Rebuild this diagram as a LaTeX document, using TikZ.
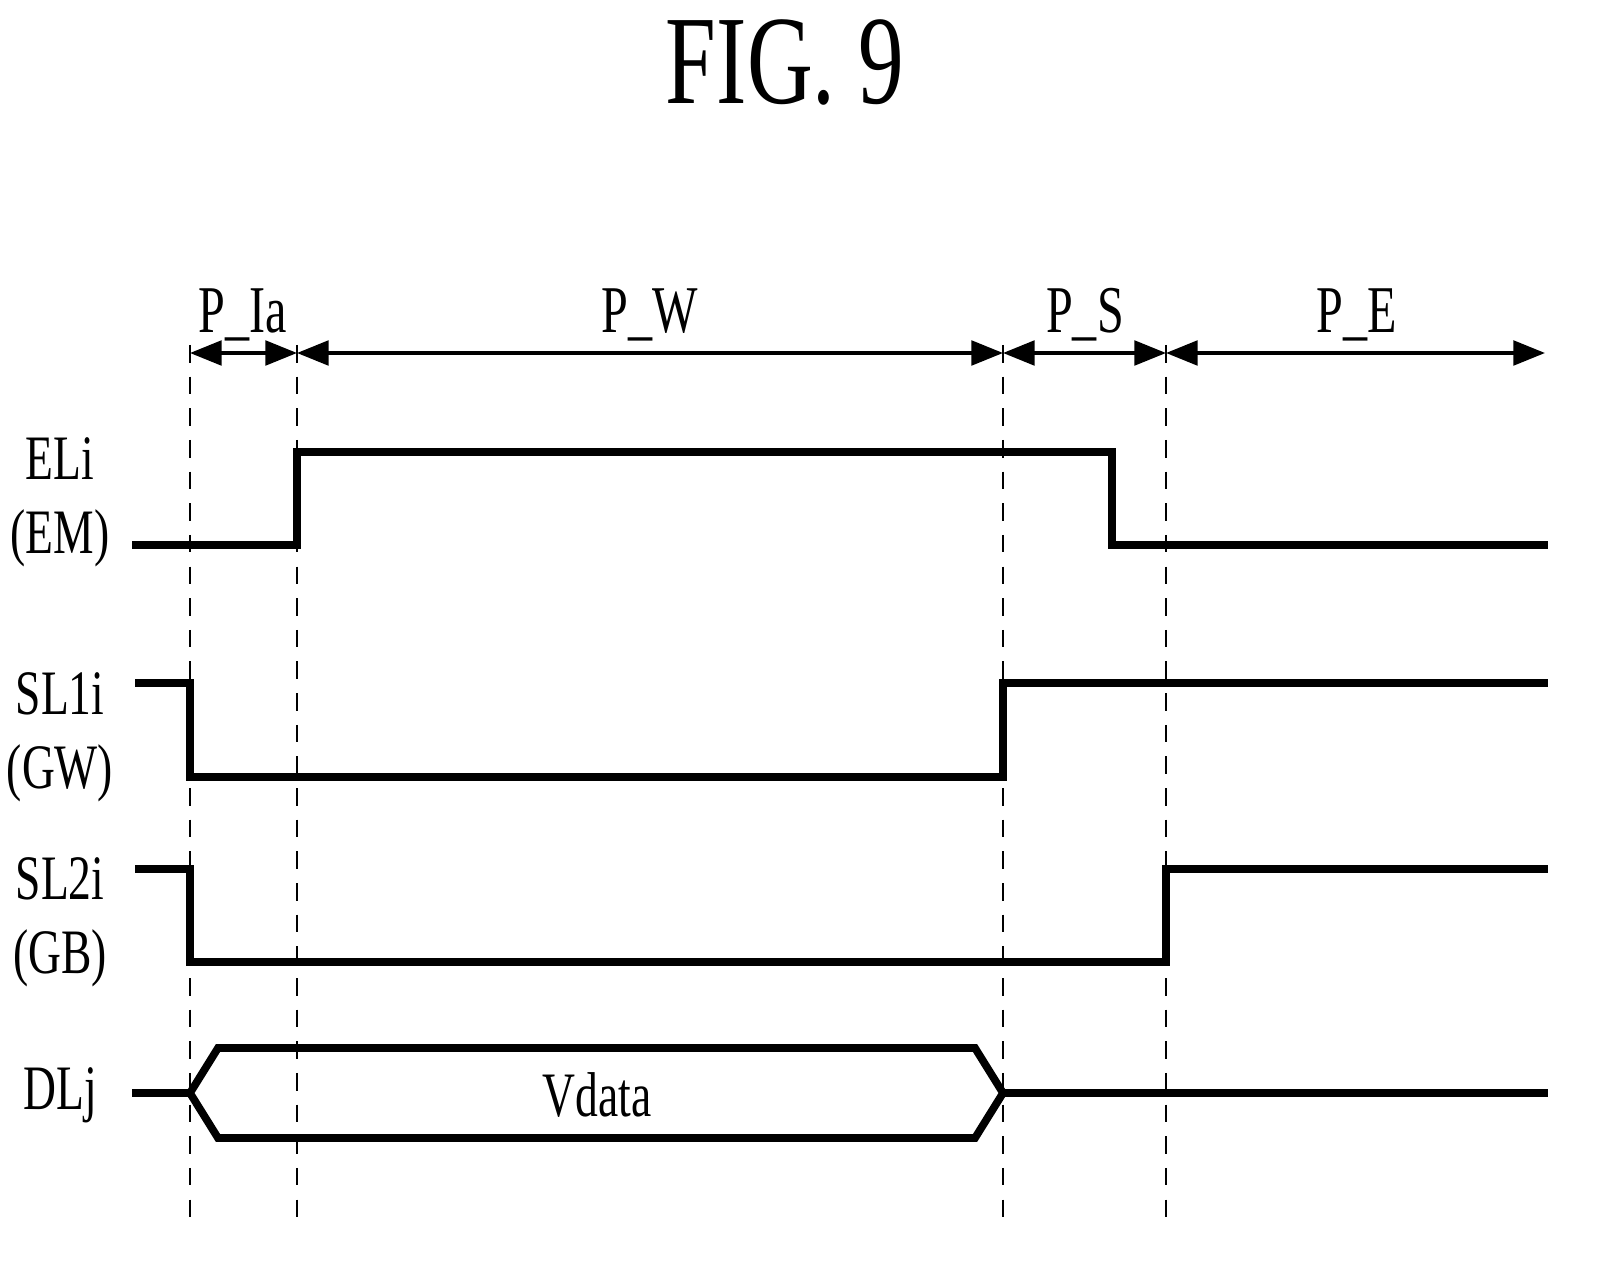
\documentclass[tikz,border=0pt]{standalone}
\usepackage{fontspec}
\newfontfamily\cond[FakeStretch=0.72]{Liberation Serif}
\usetikzlibrary{arrows.meta}
\begin{document}
\begin{tikzpicture}[x=0.01cm,y=-0.01cm,
  sig/.style={line width=2.2pt},
  vdash/.style={line width=0.6pt,dash pattern=on 5pt off 4pt},
  dim/.style={line width=1pt,{Triangle[length=9pt,width=7pt]}-{Triangle[length=9pt,width=7pt]}},
  lab/.style={font=\cond\fontsize{18}{21}\selectfont},
  per/.style={font=\cond\fontsize{19}{21}\selectfont}]
\useasboundingbox (0,0) rectangle (1597,1264);
\node[font=\cond\fontsize{36}{38}\selectfont] (title) at (785,62) {FIG. 9};
\foreach \n/\x in {a/190,b/297,c/1003,d/1166}{
  \coordinate (\n) at (\x,353);
  \draw[vdash] (\x,345) -- (\x,1222);}
\coordinate (e) at (1545,353);
\draw[dim] (a) -- (b); \draw[dim] (b) -- (c); \draw[dim] (c) -- (d); \draw[dim] (d) -- (e);
\node[per] (pia) at (243,315) {P\_Ia};
\node[per] (pw) at (650,315) {P\_W};
\node[per] (ps) at (1085,315) {P\_S};
\node[per] (pe) at (1357,315) {P\_E};
\draw[sig] (132,545) -- (297,545) -- (297,452) -- (1112,452) -- (1112,545) -- (1548,545);
\draw[sig] (135,683) -- (190,683) -- (190,777) -- (1003,777) -- (1003,683) -- (1548,683);
\draw[sig] (135,869) -- (190,869) -- (190,962) -- (1166,962) -- (1166,869) -- (1548,869);
\draw[sig] (132,1093) -- (190,1093) -- (218,1048) -- (975,1048) -- (1003,1093) -- (975,1138) -- (218,1138) -- (190,1093);
\draw[sig] (1003,1093) -- (1548,1093);
\node[lab] (vd) at (597,1095) {Vdata};
\node[lab,align=center] (el) at (60,502) {ELi\\(EM)};
\node[lab,align=center] (s1) at (60,737) {SL1i\\(GW)};
\node[lab,align=center] (s2) at (60,922) {SL2i\\(GB)};
\node[lab] (dl) at (60,1095) {DLj};
\end{tikzpicture}
\end{document}
